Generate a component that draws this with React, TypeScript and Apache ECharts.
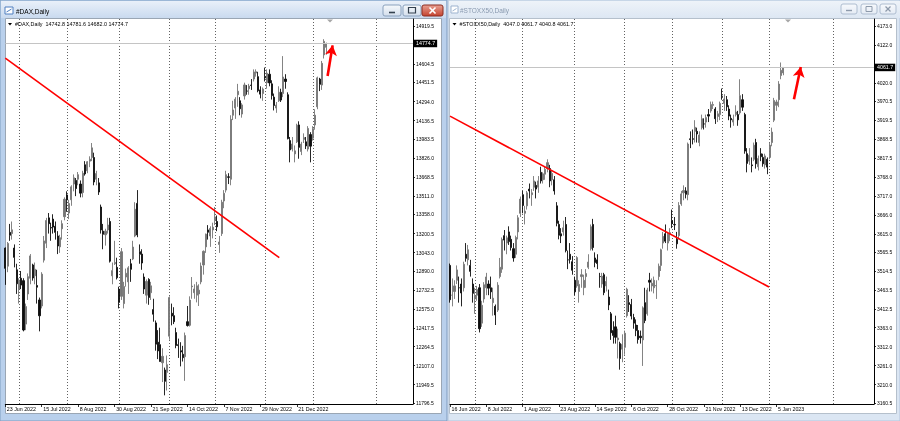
import React, { useEffect, useRef } from 'react';
import * as echarts from 'echarts';

const FONT = '"Liberation Sans", Arial, sans-serif';
const MONTH_NAMES = ['Jan', 'Feb', 'Mar', 'Apr', 'May', 'Jun', 'Jul', 'Aug', 'Sep', 'Oct', 'Nov', 'Dec'];

// ---------------- DAX (left window) ----------------
const DAX_FIRST_DAY = '2022-06-23';
const DAX_CLOSED_DAYS = ['2022-10-03', '2022-12-26'];
const DAX_SLOTS = 180;
const DAX_DATE_LABELS = ['23 Jun 2022', '15 Jul 2022', '8 Aug 2022', '30 Aug 2022', '21 Sep 2022', '14 Oct 2022', '7 Nov 2022', '29 Nov 2022', '21 Dec 2022'];
const DAX_MONTH_LINES = ['1 Jul 2022', '1 Aug 2022', '1 Sep 2022', '4 Oct 2022', '1 Nov 2022', '1 Dec 2022', '2 Jan 2023', '9 Feb 2023'];
// the 14762.0 level is hidden under the current-price tag in the reference
const DAX_PRICE_TICKS = [11796.5, 11949.5, 12107.0, 12264.5, 12417.5, 12575.0, 12732.5, 12890.0, 13043.0, 13200.5, 13358.0, 13511.0, 13668.5, 13826.0, 13983.5, 14136.5, 14294.0, 14451.5, 14604.5, 14919.5];
const DAX_Y_MIN = 11788.2;
const DAX_Y_MAX = 14977.4;

const DAX_OPEN = [
  13080, 12930, 13210, 13200, 13080, 12900,
  12740, 12830, 12810, 12450, 12700, 12830, 12940, 12850, 12770, 12650, 12600, 12980, 13120, 13330, 13250, 13320, 13260, 13180, 13090, 13240, 13340,
  13520, 13370, 13480, 13610, 13640, 13650, 13610, 13540, 13770, 13720, 13800, 13830, 13830, 13650, 13620, 13420, 13220, 13190, 13230, 13300, 12850, 12950, 12920,
  12740, 12680, 12620, 12840, 12800, 12950, 12990, 13180, 13450, 13050, 13030, 12840, 12690, 12820, 12710, 12570, 12460, 12300, 12280, 12130, 12070, 12050,
  12350, 12540, 12520, 12380, 12280, 12230, 12200, 12180, 12470, 12440, 12760, 12710, 12690, 12700, 12800, 12940, 13090, 13230, 13180, 13230,
  13310, 13300, 13110, 13200, 13470, 13560, 13670, 13650, 14180, 14240, 14350, 14300, 14190, 14340, 14380, 14400, 14430, 14480, 14530, 14500, 14390, 14360,
  14500, 14450, 14520, 14440, 14330, 14240, 14300, 14370, 14360, 14480, 14350, 13970, 13900, 13860, 13960, 14100, 13880, 13980, 13960, 13900, 14020,
  13990, 14100, 14250, 14480, 14430, 14680, 14742.8,
];
const DAX_HIGH = [
  13085, 13130, 13280, 13300, 13110, 12950,
  12830, 12890, 12830, 12620, 12870, 13030, 12950, 12960, 12900, 12670, 12880, 13180, 13330, 13370, 13290, 13360, 13300, 13220, 13190, 13310, 13500,
  13550, 13480, 13600, 13690, 13660, 13710, 13640, 13720, 13800, 13800, 13840, 13950, 13870, 13720, 13660, 13440, 13280, 13240, 13330, 13330, 12960, 13140, 13000,
  12760, 13080, 12800, 12910, 12930, 12990, 13140, 13460, 13560, 13110, 13070, 12870, 12820, 12830, 12800, 12660, 12480, 12400, 12420, 12250, 12090, 12190,
  12680, 12620, 12590, 12420, 12330, 12300, 12270, 12380, 12600, 12680, 12840, 12780, 12800, 12780, 12960, 13060, 13200, 13270, 13260, 13290,
  13420, 13350, 13180, 13480, 13560, 13720, 13700, 14180, 14300, 14330, 14440, 14330, 14280, 14450, 14430, 14440, 14480, 14560, 14560, 14540, 14420, 14410,
  14575, 14560, 14560, 14470, 14360, 14290, 14420, 14400, 14670, 14520, 14370, 14000, 14000, 13930, 14110, 14130, 13960, 14030, 14000, 14090, 14040,
  14090, 14230, 14500, 14490, 14630, 14810, 14781.6,
];
const DAX_LOW = [
  12775, 12880, 13140, 13150, 12920, 12700,
  12620, 12740, 12390, 12400, 12650, 12780, 12810, 12780, 12620, 12390, 12580, 12960, 13080, 13200, 13140, 13200, 13150, 13030, 13040, 13150, 13310,
  13380, 13320, 13430, 13550, 13510, 13600, 13500, 13500, 13680, 13700, 13750, 13800, 13600, 13600, 13520, 13200, 13070, 13100, 13200, 12960, 12780, 12940, 12820,
  12580, 12650, 12580, 12760, 12700, 12800, 12980, 13170, 13170, 12950, 12900, 12700, 12620, 12610, 12650, 12470, 12230, 12160, 12140, 11970, 11860, 11900,
  12320, 12440, 12450, 12250, 12170, 12100, 12140, 11980, 12430, 12430, 12660, 12660, 12630, 12600, 12780, 12860, 13040, 13150, 13090, 13160,
  13270, 13220, 13040, 13180, 13410, 13540, 13610, 13600, 14140, 14150, 14250, 14180, 14160, 14310, 14350, 14350, 14390, 14460, 14500, 14370, 14320, 14300,
  14460, 14400, 14420, 14310, 14220, 14200, 14290, 14290, 14330, 14400, 13980, 13790, 13880, 13790, 13950, 13820, 13850, 13950, 13900, 13880, 13790,
  13970, 14060, 14230, 14380, 14390, 14650, 14682.0,
];
const DAX_CLOSE = [
  12912, 13118, 13186, 13231, 13003, 12784,
  12813, 12773, 12401, 12595, 12843, 13015, 12832, 12905, 12756, 12519, 12864, 13139, 13308, 13282, 13246, 13254, 13210, 13097, 13166, 13282, 13484,
  13479, 13449, 13587, 13662, 13573, 13688, 13535, 13700, 13694, 13795, 13816, 13910, 13627, 13697, 13544, 13230, 13194, 13220, 13271, 12971, 12893, 12961, 12834,
  12630, 13050, 12761, 12871, 12916, 12904, 13088, 13402, 13189, 13028, 12956, 12741, 12803, 12671, 12767, 12532, 12284, 12228, 12140, 12183, 11976, 12114,
  12670, 12517, 12470, 12273, 12272, 12219, 12172, 12355, 12438, 12649, 12765, 12741, 12767, 12731, 12931, 13053, 13195, 13211, 13243, 13253,
  13338, 13256, 13130, 13460, 13533, 13688, 13666, 14146, 14224, 14313, 14379, 14234, 14266, 14431, 14380, 14422, 14427, 14539, 14541, 14383, 14355, 14397,
  14490, 14529, 14448, 14343, 14261, 14264, 14371, 14306, 14497, 14460, 13987, 13893, 13942, 13885, 14098, 13914, 13941, 13995, 13926, 14071, 13924,
  14069, 14181, 14490, 14436, 14610, 14792, 14774.7,
];
// trend line and arrow, in [bar index, price]
const DAX_TREND = [[0, 14654], [120.3, 13000]];
const DAX_ARROW = [[141.5, 14505], [143.7, 14759]];

// ---------------- STOXX50 (right window) ----------------
const STOXX_FIRST_DAY = '2022-06-16';
const STOXX_CLOSED_DAYS = ['2022-12-26'];
const STOXX_SLOTS = 188;
const STOXX_DATE_LABELS = ['16 Jun 2022', '8 Jul 2022', '1 Aug 2022', '23 Aug 2022', '14 Sep 2022', '6 Oct 2022', '28 Oct 2022', '21 Nov 2022', '13 Dec 2022', '5 Jan 2023'];
const STOXX_MONTH_LINES = ['1 Jul 2022', '1 Aug 2022', '1 Sep 2022', '3 Oct 2022', '1 Nov 2022', '1 Dec 2022', '2 Jan 2023', '9 Feb 2023'];
// the 4071.0 level is (almost) hidden under the current-price tag in the reference
const STOXX_PRICE_TICKS = [3160.5, 3210.0, 3261.0, 3312.0, 3363.0, 3412.5, 3463.5, 3514.5, 3565.5, 3615.0, 3666.0, 3717.0, 3768.0, 3817.5, 3868.5, 3919.5, 3970.5, 4020.0, 4122.0, 4173.0];
const STOXX_Y_MIN = 3157.8;
const STOXX_Y_MAX = 4191.8;

const STOXX_OPEN = [
  3530, 3450, 3460, 3490, 3470, 3480, 3470, 3560, 3545, 3530, 3480,
  3440, 3450, 3470, 3375, 3440, 3470, 3480, 3470, 3430, 3420, 3410, 3500, 3520, 3610, 3590, 3620, 3600, 3575, 3560, 3620, 3670,
  3720, 3670, 3690, 3735, 3720, 3740, 3745, 3740, 3780, 3760, 3775, 3790, 3790, 3760, 3760, 3690, 3640, 3615, 3620, 3640, 3545, 3560, 3540,
  3490, 3475, 3460, 3500, 3470, 3500, 3525, 3575, 3640, 3550, 3545, 3500, 3480, 3505, 3475, 3445, 3400, 3355, 3365, 3330, 3320, 3305,
  3310, 3395, 3430, 3425, 3390, 3370, 3355, 3340, 3330, 3430, 3400, 3490, 3475, 3470, 3475, 3500, 3530, 3590, 3615, 3590, 3615,
  3650, 3640, 3600, 3610, 3695, 3725, 3730, 3720, 3870, 3870, 3890, 3890, 3860, 3900, 3910, 3915, 3935, 3945, 3960, 3950, 3930, 3935,
  3985, 3965, 3975, 3950, 3925, 3915, 3935, 3935, 3940, 3975, 3935, 3830, 3810, 3800, 3815, 3860, 3795, 3830, 3820, 3800, 3815,
  3820, 3860, 3920, 3960, 3975, 4040, 4047.0,
];
const STOXX_HIGH = [
  3535, 3495, 3490, 3530, 3500, 3495, 3540, 3590, 3585, 3545, 3495,
  3470, 3475, 3480, 3435, 3485, 3510, 3490, 3500, 3470, 3425, 3485, 3550, 3605, 3625, 3610, 3635, 3610, 3590, 3610, 3665, 3715,
  3730, 3690, 3730, 3750, 3735, 3770, 3755, 3770, 3795, 3780, 3795, 3815, 3800, 3785, 3770, 3700, 3650, 3630, 3650, 3660, 3570, 3590, 3555,
  3500, 3555, 3490, 3520, 3505, 3520, 3560, 3640, 3655, 3565, 3560, 3510, 3510, 3510, 3500, 3465, 3405, 3380, 3395, 3360, 3325, 3345,
  3355, 3470, 3450, 3440, 3400, 3385, 3370, 3355, 3420, 3470, 3470, 3510, 3495, 3500, 3490, 3535, 3575, 3620, 3640, 3620, 3630,
  3680, 3660, 3620, 3700, 3730, 3745, 3740, 3860, 3890, 3895, 3920, 3900, 3890, 3935, 3925, 3935, 3950, 3970, 3970, 3955, 3945, 3970,
  4005, 3990, 3985, 3960, 3935, 3935, 3960, 3945, 4030, 3990, 3940, 3845, 3845, 3820, 3860, 3870, 3825, 3845, 3830, 3830, 3820,
  3860, 3900, 3980, 3975, 4025, 4075, 4061.7,
];
const STOXX_LOW = [
  3430, 3420, 3440, 3480, 3430, 3420, 3460, 3540, 3530, 3500, 3430,
  3400, 3435, 3350, 3365, 3430, 3450, 3450, 3440, 3395, 3370, 3405, 3495, 3510, 3570, 3560, 3585, 3570, 3540, 3550, 3600, 3660,
  3670, 3640, 3680, 3710, 3690, 3730, 3710, 3725, 3750, 3750, 3760, 3780, 3740, 3745, 3720, 3635, 3600, 3590, 3610, 3565, 3520, 3535, 3505,
  3450, 3470, 3430, 3470, 3450, 3470, 3520, 3570, 3570, 3525, 3520, 3470, 3470, 3450, 3460, 3410, 3330, 3320, 3320, 3280, 3250, 3270,
  3290, 3390, 3405, 3385, 3360, 3340, 3320, 3320, 3260, 3375, 3395, 3460, 3460, 3455, 3440, 3490, 3515, 3575, 3590, 3570, 3595,
  3630, 3625, 3575, 3600, 3690, 3705, 3710, 3705, 3845, 3855, 3860, 3860, 3850, 3895, 3895, 3900, 3915, 3940, 3950, 3910, 3915, 3920,
  3975, 3945, 3945, 3920, 3900, 3905, 3930, 3905, 3935, 3945, 3830, 3780, 3800, 3780, 3810, 3790, 3785, 3810, 3795, 3790, 3775,
  3815, 3850, 3915, 3945, 3955, 4030, 4040.8,
];
const STOXX_CLOSE = [
  3438, 3450, 3475, 3518, 3470, 3456, 3533, 3549, 3572, 3514, 3455,
  3448, 3465, 3360, 3423, 3478, 3499, 3469, 3459, 3442, 3397, 3477, 3525, 3600, 3598, 3604, 3594, 3578, 3550, 3605, 3658, 3708,
  3691, 3676, 3725, 3730, 3725, 3757, 3735, 3757, 3757, 3776, 3788, 3806, 3757, 3777, 3730, 3643, 3611, 3609, 3631, 3570, 3545, 3546, 3517,
  3459, 3551, 3479, 3505, 3490, 3508, 3539, 3634, 3578, 3538, 3535, 3500, 3501, 3457, 3487, 3424, 3349, 3342, 3337, 3335, 3280, 3318,
  3348, 3466, 3425, 3394, 3375, 3355, 3331, 3336, 3416, 3382, 3464, 3485, 3482, 3490, 3476, 3528, 3572, 3608, 3595, 3614, 3618,
  3642, 3639, 3588, 3691, 3722, 3731, 3721, 3856, 3868, 3869, 3901, 3883, 3880, 3924, 3910, 3927, 3931, 3962, 3962, 3924, 3937, 3965,
  3984, 3977, 3956, 3931, 3921, 3922, 3942, 3921, 3986, 3955, 3837, 3804, 3826, 3798, 3853, 3803, 3817, 3822, 3803, 3824, 3794,
  3853, 3888, 3973, 3969, 4017, 4054, 4061.7,
];
const STOXX_TREND = [[0, 3931], [140.7, 3472]];
const STOXX_ARROW = [[151.7, 3976], [154.7, 4062.6]];

// ---------------- helpers ----------------
function tradingDays(start: string, count: number, closed: string[]): string[] {
  const out: string[] = [];
  const d = new Date(start + 'T00:00:00Z');
  while (out.length < count) {
    const wd = d.getUTCDay();
    const iso = d.toISOString().slice(0, 10);
    if (wd !== 0 && wd !== 6 && !closed.includes(iso)) {
      out.push(`${d.getUTCDate()} ${MONTH_NAMES[d.getUTCMonth()]} ${d.getUTCFullYear()}`);
    }
    d.setUTCDate(d.getUTCDate() + 1);
  }
  return out;
}

function ohlc(o: number[], h: number[], l: number[], c: number[]) {
  return o.map((v, i) => [v, c[i], l[i], h[i]]);
}

function timeAxis(gridIndex: number, dates: string[], labels: string[], lines: string[]) {
  const isLabel = (_i: number, v: string) => labels.includes(v);
  return {
    type: 'category',
    gridIndex,
    data: dates,
    boundaryGap: false,
    axisLine: { show: true, onZero: false, lineStyle: { color: '#000', width: 1 } },
    axisTick: { show: true, length: 3, interval: isLabel, lineStyle: { color: '#000', width: 0.8 } },
    axisLabel: {
      show: true, interval: isLabel, align: 'left', margin: 2.5, padding: [0, 0, 0, 1.5],
      fontSize: 5.3, fontFamily: FONT, color: '#000', hideOverlap: false,
    },
    splitLine: {
      show: true,
      interval: (_i: number, v: string) => lines.includes(v),
      lineStyle: { color: '#3a3a3a', width: 0.8, type: [1, 2] },
    },
  };
}

function priceAxis(gridIndex: number, min: number, max: number, ticks: number[]) {
  return {
    type: 'value',
    gridIndex,
    position: 'right',
    min,
    max,
    axisLine: { show: true, onZero: false, lineStyle: { color: '#000', width: 1 } },
    axisTick: { show: true, length: 2, customValues: ticks, lineStyle: { color: '#000', width: 0.8 } },
    axisLabel: {
      show: true, customValues: ticks, margin: 3, fontSize: 5, fontFamily: FONT, color: '#000',
      formatter: (v: number) => v.toFixed(1),
    },
    splitLine: { show: false },
  };
}

function candles(xi: number, yi: number, data: number[][], last: number) {
  return {
    type: 'candlestick',
    xAxisIndex: xi,
    yAxisIndex: yi,
    data,
    barWidth: 1.6,
    silent: true,
    itemStyle: { color: '#767676', color0: '#0d0d0d', borderColor: '#767676', borderColor0: '#0d0d0d', borderWidth: 0.9 },
    markLine: {
      silent: true,
      symbol: ['none', 'none'],
      lineStyle: { color: '#c4c4c4', width: 1, type: 'solid' },
      label: {
        show: true, position: 'end', distance: 1, formatter: () => last.toFixed(1),
        color: '#fff', backgroundColor: '#000', padding: [1.5, 2, 1, 2], fontSize: 5.3, fontFamily: FONT,
      },
      emphasis: { disabled: true },
      data: [{ yAxis: last }],
    },
  };
}

function trend(xi: number, yi: number, line: number[][], arrow: number[][]) {
  return {
    type: 'line',
    xAxisIndex: xi,
    yAxisIndex: yi,
    data: line,
    symbol: 'none',
    silent: true,
    z: 5,
    lineStyle: { color: '#ff0000', width: 1.6 },
    markLine: {
      silent: true,
      symbol: ['none', 'arrow'],
      symbolSize: [9, 10],
      lineStyle: { color: '#ff0000', width: 2.6, type: 'solid' },
      label: { show: false },
      emphasis: { disabled: true },
      data: [[{ coord: arrow[0] }, { coord: arrow[1] }]],
    },
  };
}

function rect(x: number, y: number, w: number, h: number, style: any, z = -10, r = 0) {
  return { type: 'rect', silent: true, z, shape: { x, y, width: w, height: h, r }, style };
}
function line(x1: number, y1: number, x2: number, y2: number, stroke: string, lineWidth = 1, z = 6) {
  return { type: 'line', silent: true, z, shape: { x1, y1, x2, y2 }, style: { stroke, lineWidth } };
}
function text(x: number, y: number, t: string, size: number, fill: string, z = 6) {
  return {
    type: 'text', silent: true, z, x, y,
    style: { text: t, fontSize: size, fontFamily: FONT, fill, align: 'left', verticalAlign: 'middle', textAlign: 'left', textVerticalAlign: 'middle' },
  };
}
function tri(x: number, y: number, w: number, h: number, fill: string, z = 6) {
  return { type: 'polygon', silent: true, z, shape: { points: [[x - w / 2, y], [x + w / 2, y], [x, y + h]] }, style: { fill } };
}
function grad(a: string, b: string) {
  return new echarts.graphic.LinearGradient(0, 0, 0, 1, [{ offset: 0, color: a }, { offset: 1, color: b }]);
}

function chrome(): any[] {
  const g: any[] = [];
  // page
  g.push(rect(0, 0, 900, 421, { fill: '#c9daee' }, -20));
  // left window (active)
  g.push(rect(0, 0, 447, 421, { fill: '#b9d0ec', stroke: '#7f9dc0', lineWidth: 1 }, -19));
  g.push(rect(1, 1, 445, 17, { fill: grad('#e9f0f9', '#c9daef') }, -18));
  g.push(rect(5.5, 18.5, 436, 395, { fill: '#ffffff', stroke: '#9aa6b4', lineWidth: 1 }, -17));
  // right window (inactive)
  g.push(rect(448, 0, 452, 421, { fill: '#dbe6f3', stroke: '#b3c5dc', lineWidth: 1 }, -19));
  g.push(rect(449, 1, 451, 17, { fill: grad('#eef3f9', '#dde7f3') }, -18));
  g.push(rect(449.5, 18.5, 447, 395, { fill: '#ffffff', stroke: '#b5c0cc', lineWidth: 1 }, -17));

  // title icons
  g.push(rect(5, 7, 8, 7, { fill: '#ffffff', stroke: '#4f7fc0', lineWidth: 1 }, 6));
  g.push(line(6.5, 12, 11.5, 9, '#4f7fc0', 1));
  g.push(rect(451, 6, 7, 7, { fill: '#ffffff', stroke: '#9db3cf', lineWidth: 1 }, 6));
  g.push(line(452.5, 11, 456.5, 8.5, '#9db3cf', 1));
  // titles
  g.push(text(16, 11, '#DAX,Daily', 6.5, '#000000'));
  g.push(text(460, 10.5, '#STOXX50,Daily', 6.5, '#8a9ab0'));

  // left buttons
  g.push(rect(383, 5, 18, 11, { fill: grad('#f6f9fc', '#d3deec'), stroke: '#8aa1bd', lineWidth: 1 }, 5, 2));
  g.push(line(389, 12.5, 395, 12.5, '#34414f', 1.6));
  g.push(rect(403, 5, 18, 11, { fill: grad('#f6f9fc', '#d3deec'), stroke: '#8aa1bd', lineWidth: 1 }, 5, 2));
  g.push(rect(408.5, 7.5, 7, 5.5, { fill: 'none', stroke: '#34414f', lineWidth: 1.2 }, 6));
  g.push(rect(422, 5, 21, 11, { fill: grad('#e9a193', '#c4432f'), stroke: '#8d2d20', lineWidth: 1 }, 5, 2));
  g.push(line(429.5, 7.5, 435.5, 13.5, '#ffffff', 1.6));
  g.push(line(435.5, 7.5, 429.5, 13.5, '#ffffff', 1.6));
  // right buttons
  const rb = [841, 861, 880];
  rb.forEach((bx) => g.push(rect(bx, 4, 16, 10, { fill: grad('#f7f9fc', '#e4ebf4'), stroke: '#aebdd0', lineWidth: 1 }, 5, 2)));
  g.push(line(846, 10.5, 852, 10.5, '#8d9aab', 1.4));
  g.push(rect(866, 6.5, 6, 5, { fill: 'none', stroke: '#8d9aab', lineWidth: 1 }, 6));
  g.push(line(885.5, 6.5, 890.5, 11.5, '#8d9aab', 1.3));
  g.push(line(890.5, 6.5, 885.5, 11.5, '#8d9aab', 1.3));

  // chart headers
  g.push(tri(10, 23, 4, 2.6, '#000000'));
  g.push(text(15, 24.3, '#DAX,Daily  14742.8 14781.6 14682.0 14774.7', 5.4, '#000000'));
  g.push(tri(454.5, 23, 4, 2.6, '#000000'));
  g.push(text(459.5, 24.3, '#STOXX50,Daily  4047.0 4061.7 4040.8 4061.7', 5.4, '#000000'));

  // chart shift markers
  g.push(tri(330, 19.5, 6, 3, '#a6a6a6'));
  g.push(tri(788, 19.5, 6, 3, '#a6a6a6'));
  return g;
}

export default function App() {
  const ref = useRef<HTMLDivElement>(null);
  useEffect(() => {
    if (!ref.current) return;
    const chart = echarts.init(ref.current, null, { renderer: 'svg', width: 900, height: 421 });
    const daxDates = tradingDays(DAX_FIRST_DAY, DAX_SLOTS, DAX_CLOSED_DAYS);
    const stoxxDates = tradingDays(STOXX_FIRST_DAY, STOXX_SLOTS, STOXX_CLOSED_DAYS);
    const daxLast = DAX_CLOSE[DAX_CLOSE.length - 1];
    const stoxxLast = STOXX_CLOSE[STOXX_CLOSE.length - 1];
    chart.setOption({
      animation: false,
      backgroundColor: 'transparent',
      graphic: { elements: chrome() },
      grid: [
        { left: 5.3, top: 19, width: 407.7, height: 385, show: false },
        { left: 450, top: 19, width: 424, height: 385, show: false },
      ],
      xAxis: [
        timeAxis(0, daxDates, DAX_DATE_LABELS, DAX_MONTH_LINES),
        timeAxis(1, stoxxDates, STOXX_DATE_LABELS, STOXX_MONTH_LINES),
        { type: 'value', gridIndex: 0, min: 0, max: DAX_SLOTS - 1, show: false },
        { type: 'value', gridIndex: 1, min: 0, max: STOXX_SLOTS - 1, show: false },
      ],
      yAxis: [
        priceAxis(0, DAX_Y_MIN, DAX_Y_MAX, DAX_PRICE_TICKS),
        priceAxis(1, STOXX_Y_MIN, STOXX_Y_MAX, STOXX_PRICE_TICKS),
      ],
      series: [
        candles(0, 0, ohlc(DAX_OPEN, DAX_HIGH, DAX_LOW, DAX_CLOSE), daxLast),
        candles(1, 1, ohlc(STOXX_OPEN, STOXX_HIGH, STOXX_LOW, STOXX_CLOSE), stoxxLast),
        trend(2, 0, DAX_TREND, DAX_ARROW),
        trend(3, 1, STOXX_TREND, STOXX_ARROW),
      ],
    });
    return () => chart.dispose();
  }, []);
  return <div ref={ref} style={{ position: 'fixed', left: 0, top: 0, width: 900, height: 421 }} />;
}
